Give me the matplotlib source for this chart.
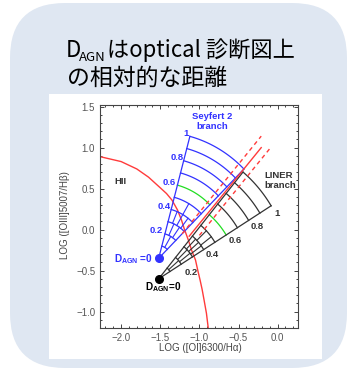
import numpy as np
import matplotlib
matplotlib.use("Agg")
import matplotlib.pyplot as plt
from matplotlib.patches import FancyBboxPatch, Rectangle
from matplotlib.ticker import MultipleLocator, FuncFormatter

plt.rcParams['mathtext.fontset'] = 'custom'
plt.rcParams['mathtext.rm'] = 'Liberation Sans'
plt.rcParams['mathtext.bf'] = 'Liberation Sans:bold'

# star-forming (HII) boundary
hii_x = [-2.27, -2.0, -1.8, -1.65, -1.5, -1.42, -1.35, -1.28, -1.23, -1.19,
         -1.14, -1.10, -1.05, -1.02, -0.99, -0.965, -0.94, -0.91, -0.887]
hii_y = [0.89, 0.83, 0.74, 0.64, 0.51, 0.44, 0.36, 0.24, 0.12, 0.0,
         -0.13, -0.25, -0.37, -0.50, -0.62, -0.73, -0.86, -1.02, -1.2]

# Seyfert / LINER dividing line and its dashed band (end points)
sl_x = [-1.13, -0.21]
sl_y = [-0.08, 1.00]
sl_up_x = [-1.22, -0.21]
sl_up_y = [-0.05, 1.14]
sl_lo_x = [-1.00, -0.09]
sl_lo_y = [-0.07, 1.00]

# D_AGN fans: origin, outer radius, angle range (deg)
sey_center = (-1.52, -0.35)
sey_radius = 1.54
sey_angles = (45.0, 75.0)
lin_center = (-1.52, -0.60)
lin_radius = 1.69
lin_angles = (31.8, 50.4)
d_levels = [0.1, 0.2, 0.3, 0.4, 0.5, 0.6, 0.7, 0.8, 0.9, 1.0]
green_level = 0.6
# short radial ticks inside the fans: (inner level, fraction across fan)
sey_spokes = [(0.1, 0.5), (0.2, 0.33), (0.2, 0.67), (0.3, 0.25), (0.3, 0.5),
              (0.3, 0.75), (0.4, 0.5)]
lin_spokes = [(0.1, 0.5), (0.2, 0.33), (0.2, 0.67), (0.3, 0.25), (0.3, 0.5),
              (0.3, 0.75), (0.4, 0.3), (0.4, 0.65)]

label_text = ['0.2', '0.4', '0.6', '0.8', '1']
sey_lab_x = [-1.557, -1.455, -1.383, -1.29, -1.166]
sey_lab_y = [-0.008, 0.28, 0.58, 0.877, 1.175]
lin_lab_x = [-1.106, -0.838, -0.54, -0.263, -0.008]
lin_lab_y = [-0.518, -0.30, -0.13, 0.033, 0.20]

blue = '#3232ff'
red = '#ff3b3b'
green = '#22dd22'
dark = '#333333'

fig = plt.figure(figsize=(3.5, 3.71), dpi=100)

# slide card background in pixel coordinates
bg = fig.add_axes([0, 0, 1, 1])
bg.set_xlim(0, 350)
bg.set_ylim(371, 0)
bg.axis('off')
bg.add_patch(FancyBboxPatch((10, 3), 337, 365,
                            boxstyle="round,pad=0,rounding_size=55",
                            facecolor='#dfe7f2', edgecolor='none'))
bg.add_patch(Rectangle((49, 94), 273, 265, facecolor='white', edgecolor='none'))

title_font = 'Noto Sans CJK JP'
bg.text(66, 57, 'D', fontsize=16, family=title_font, va='baseline')
bg.text(79, 61, 'AGN', fontsize=9.5, family=title_font, va='baseline')
bg.text(107, 57, 'はoptical 診断図上', fontsize=16, family=title_font, va='baseline')
bg.text(67, 85, 'の相対的な距離', fontsize=16.5, family=title_font, va='baseline')

ax = fig.add_axes([100/350, 43/371, 198/350, 223/371])
ax.set_xlim(-2.27, 0.26)
ax.set_ylim(-1.2, 1.52)


def fan(center, radius, angles, color, spokes):
    cx, cy = center
    t1, t2 = np.radians(angles[0]), np.radians(angles[1])
    t = np.linspace(t1, t2, 60)
    for lev in d_levels:
        c = green if abs(lev - green_level) < 1e-6 else color
        ax.plot(cx + lev*radius*np.cos(t), cy + lev*radius*np.sin(t),
                color=c, lw=0.9)
    for a in (t1, t2):
        ax.plot([cx, cx + radius*np.cos(a)], [cy, cy + radius*np.sin(a)],
                color=color, lw=0.9)
    for lev, f in spokes:
        a = t1 + f*(t2 - t1)
        r = np.array([lev, lev + 0.1])*radius
        ax.plot(cx + r*np.cos(a), cy + r*np.sin(a), color=color, lw=0.8)


ax.plot(hii_x, hii_y, color=red, lw=1.0)
fan(sey_center, sey_radius, sey_angles, blue, sey_spokes)
fan(lin_center, lin_radius, lin_angles, dark, lin_spokes)
ax.plot(sl_x, sl_y, color=red, lw=1.0)
ax.plot(sl_up_x, sl_up_y, color=red, lw=1.0, dashes=(3, 2.5))
ax.plot(sl_lo_x, sl_lo_y, color=red, lw=1.0, dashes=(3, 2.5))

ax.plot(*sey_center, 'o', color=blue, ms=5.5, zorder=5)
ax.plot(*lin_center, 'o', color='black', ms=5.5, zorder=5)

lab = dict(fontsize=6.8, fontweight='bold', family='Liberation Sans',
           ha='center', va='center')
for t, x, y in zip(label_text, sey_lab_x, sey_lab_y):
    ax.text(x, y, t, color=blue, **lab)
for t, x, y in zip(label_text, lin_lab_x, lin_lab_y):
    ax.text(x, y, t, color=dark, **lab)

ax.text(-2.01, 0.586, 'HII', color=dark, **lab)
ax.text(-0.838, 1.315, 'Seyfert 2\nbranch', color=blue, linespacing=1.1, **lab)
ax.text(-0.166, 0.60, 'LINER\nbranch', color=dark, fontsize=6.8,
        fontweight='bold', family='Liberation Sans', ha='left', va='center',
        linespacing=1.1)
ax.text(-1.59, -0.36, r'D$_{\mathbf{AGN}}$ =0', color=blue, fontsize=7.2,
        fontweight='bold', family='Liberation Sans', ha='right', va='center')
ax.text(-1.466, -0.70, r'D$_{\mathbf{AGN}}$=0', color='black', fontsize=7.2,
        fontweight='bold', family='Liberation Sans', ha='center', va='center')

# IDL-style axes
ax.xaxis.set_major_locator(MultipleLocator(0.5))
ax.xaxis.set_minor_locator(MultipleLocator(0.1))
ax.yaxis.set_major_locator(MultipleLocator(0.5))
ax.yaxis.set_minor_locator(MultipleLocator(0.1))
fmt = FuncFormatter(lambda v, p: f"{(v if abs(v) > 1e-9 else 0):.1f}".replace('-', '\u2212'))
ax.xaxis.set_major_formatter(fmt)
ax.yaxis.set_major_formatter(fmt)
ax.tick_params(which='both', direction='in', top=True, right=True,
               color='#444444', width=0.7, labelsize=7, labelcolor='#555555', pad=3.5)
ax.tick_params(which='major', length=3)
ax.tick_params(which='minor', length=1.5)
for s in ax.spines.values():
    s.set_color('#444444')
    s.set_linewidth(0.8)
for lbl in ax.get_xticklabels() + ax.get_yticklabels():
    lbl.set_family('Liberation Sans')

ax.set_xlabel('LOG ([OI]6300/Hα)', fontsize=7, color='#444444', family='Liberation Sans')
ax.set_ylabel('LOG ([OIII]5007/Hβ)', fontsize=7, color='#444444', family='Liberation Sans')
ax.xaxis.set_label_coords(0.505, -0.09)
ax.yaxis.set_label_coords(-0.177, 0.507)
ax.xaxis.label.set_va('center')
ax.yaxis.label.set_va('center')

fig.savefig('out.png', dpi=100)
